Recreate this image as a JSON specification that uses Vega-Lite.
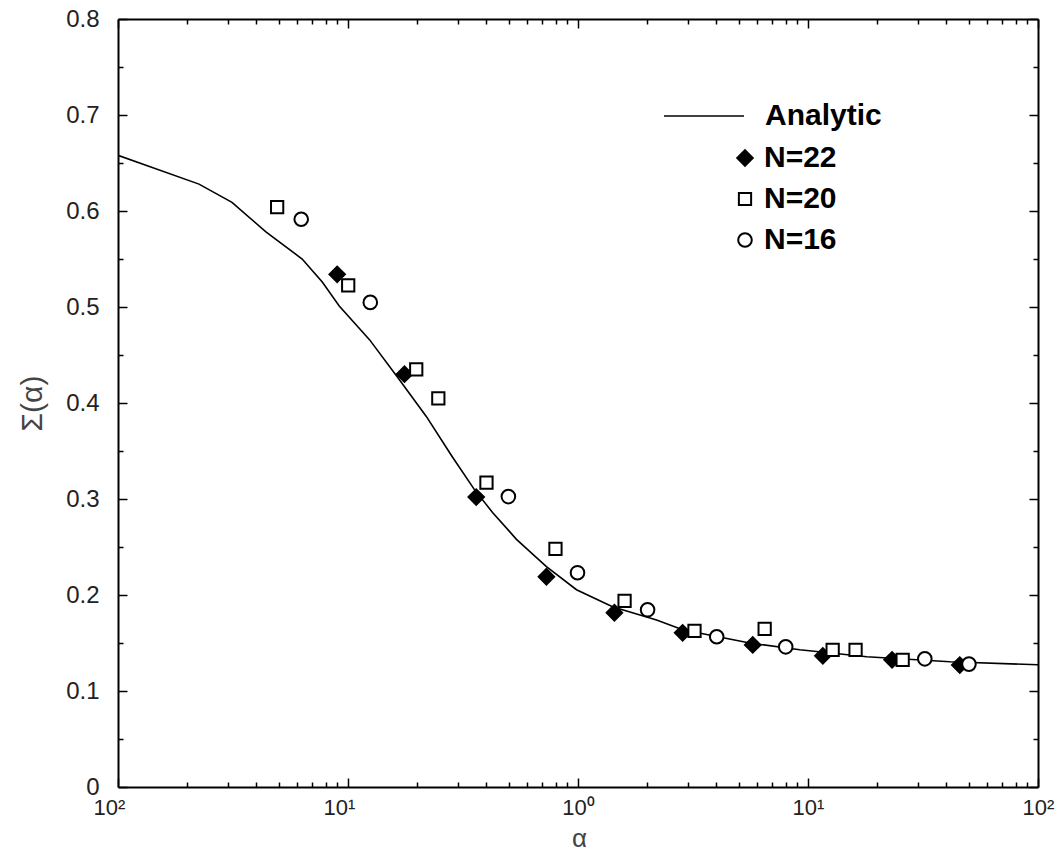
{
  "$schema": "https://vega.github.io/schema/vega-lite/v6.json",
  "width": 920,
  "height": 768,
  "autosize": {"type": "none"},
  "padding": {"left": 118, "top": 19, "right": 17, "bottom": 65},
  "background": "white",
  "config": {
    "view": {"stroke": null},
    "axis": {"grid": false, "domainColor": "black", "tickColor": "black", "labelFont": "Liberation Sans", "titleFont": "Liberation Sans", "labelFlush": false, "labelOverlap": false, "labelBound": false}
  },
  "datasets": {
    "analytic": [
      {"alpha": 0.01, "sigma": 0.658, "series": "Analytic"},
      {"alpha": 0.0225, "sigma": 0.628, "series": "Analytic"},
      {"alpha": 0.0313, "sigma": 0.609, "series": "Analytic"},
      {"alpha": 0.0441, "sigma": 0.578, "series": "Analytic"},
      {"alpha": 0.0632, "sigma": 0.55, "series": "Analytic"},
      {"alpha": 0.0773, "sigma": 0.526, "series": "Analytic"},
      {"alpha": 0.0916, "sigma": 0.501, "series": "Analytic"},
      {"alpha": 0.124, "sigma": 0.466, "series": "Analytic"},
      {"alpha": 0.167, "sigma": 0.4245, "series": "Analytic"},
      {"alpha": 0.219, "sigma": 0.386, "series": "Analytic"},
      {"alpha": 0.284, "sigma": 0.344, "series": "Analytic"},
      {"alpha": 0.354, "sigma": 0.31, "series": "Analytic"},
      {"alpha": 0.425, "sigma": 0.286, "series": "Analytic"},
      {"alpha": 0.54, "sigma": 0.258, "series": "Analytic"},
      {"alpha": 0.729, "sigma": 0.2295, "series": "Analytic"},
      {"alpha": 0.985, "sigma": 0.2055, "series": "Analytic"},
      {"alpha": 1.413, "sigma": 0.1877, "series": "Analytic"},
      {"alpha": 2.196, "sigma": 0.174, "series": "Analytic"},
      {"alpha": 2.85, "sigma": 0.1638, "series": "Analytic"},
      {"alpha": 5.58, "sigma": 0.15, "series": "Analytic"},
      {"alpha": 9.21, "sigma": 0.1429, "series": "Analytic"},
      {"alpha": 18.0, "sigma": 0.1356, "series": "Analytic"},
      {"alpha": 41.4, "sigma": 0.1304, "series": "Analytic"},
      {"alpha": 100, "sigma": 0.1273, "series": "Analytic"}
    ],
    "points": [
      {"alpha": 0.0897, "sigma": 0.534, "series": "N=22"},
      {"alpha": 0.176, "sigma": 0.43, "series": "N=22"},
      {"alpha": 0.361, "sigma": 0.302, "series": "N=22"},
      {"alpha": 0.729, "sigma": 0.219, "series": "N=22"},
      {"alpha": 1.44, "sigma": 0.1815, "series": "N=22"},
      {"alpha": 2.85, "sigma": 0.1606, "series": "N=22"},
      {"alpha": 5.75, "sigma": 0.148, "series": "N=22"},
      {"alpha": 11.6, "sigma": 0.1366, "series": "N=22"},
      {"alpha": 23.2, "sigma": 0.1325, "series": "N=22"},
      {"alpha": 45.7, "sigma": 0.127, "series": "N=22"},
      {"alpha": 0.0492, "sigma": 0.604, "series": "N=20"},
      {"alpha": 0.1002, "sigma": 0.5226, "series": "N=20"},
      {"alpha": 0.198, "sigma": 0.435, "series": "N=20"},
      {"alpha": 0.247, "sigma": 0.4047, "series": "N=20"},
      {"alpha": 0.4, "sigma": 0.317, "series": "N=20"},
      {"alpha": 0.798, "sigma": 0.248, "series": "N=20"},
      {"alpha": 1.594, "sigma": 0.194, "series": "N=20"},
      {"alpha": 3.21, "sigma": 0.1627, "series": "N=20"},
      {"alpha": 6.48, "sigma": 0.1648, "series": "N=20"},
      {"alpha": 12.8, "sigma": 0.1429, "series": "N=20"},
      {"alpha": 16.1, "sigma": 0.1429, "series": "N=20"},
      {"alpha": 25.8, "sigma": 0.1325, "series": "N=20"},
      {"alpha": 0.0626, "sigma": 0.5914, "series": "N=16"},
      {"alpha": 0.125, "sigma": 0.5048, "series": "N=16"},
      {"alpha": 0.498, "sigma": 0.3025, "series": "N=16"},
      {"alpha": 0.995, "sigma": 0.2232, "series": "N=16"},
      {"alpha": 2.007, "sigma": 0.1846, "series": "N=16"},
      {"alpha": 4.01, "sigma": 0.1565, "series": "N=16"},
      {"alpha": 8.0, "sigma": 0.146, "series": "N=16"},
      {"alpha": 32.2, "sigma": 0.1335, "series": "N=16"},
      {"alpha": 50.1, "sigma": 0.128, "series": "N=16"}
    ]
  },
  "layer": [
    {
      "data": {"name": "analytic"},
      "mark": {"type": "line", "strokeWidth": 1.6, "clip": true},
      "encoding": {
        "x": {
          "field": "alpha", "type": "quantitative",
          "scale": {"type": "log", "domain": [0.01, 100], "nice": false},
          "axis": {
            "orient": "bottom", "values": [0.01, 0.1, 1, 10, 100],
            "labelExpr": "datum.value < 0.05 ? '10²' : datum.value < 0.5 ? '10¹' : datum.value < 5 ? '10⁰' : datum.value < 50 ? '10¹' : '10²'",
            "ticks": false, "tickSize": 0, "domain": true, "domainWidth": 2,
            "labelFontSize": 22, "labelPadding": 10, "labelColor": "#222",
            "labelOffset": {"condition": {"test": "datum.value < 0.5", "value": -9}, "value": 0},
            "title": "α", "titleFontSize": 26, "titleFontWeight": "normal", "titleColor": "#444",
            "titleX": 461, "titleY": 51, "titleBaseline": "middle", "titleAlign": "center"
          }
        },
        "y": {
          "field": "sigma", "type": "quantitative",
          "scale": {"domain": [0, 0.8], "nice": false, "zero": false},
          "axis": {
            "orient": "left", "values": [0, 0.1, 0.2, 0.3, 0.4, 0.5, 0.6, 0.7, 0.8],
            "labelExpr": "datum.value == 0 ? '0' : format(datum.value, '.1f')",
            "ticks": false, "tickSize": 0, "domain": true, "domainWidth": 2,
            "labelFontSize": 24, "labelPadding": 19, "labelColor": "#222",
            "title": "Σ(α)", "titleFontSize": 30, "titleFontWeight": "normal", "titleColor": "#444",
            "titleX": -86, "titleY": 384, "titleBaseline": "middle", "titleAlign": "center", "titleAngle": -90
          }
        },
        "stroke": {
          "field": "series", "type": "nominal",
          "scale": {"domain": ["Analytic"], "range": ["black"]},
          "legend": {
            "orient": "none", "legendX": 545, "legendY": 56, "title": null, "padding": 0,
            "symbolType": "stroke", "symbolSize": 6400, "symbolStrokeWidth": 1.6, "symbolStrokeColor": "black",
            "labelFont": "Liberation Sans", "labelFontSize": 30, "labelFontWeight": "bold", "labelColor": "black",
            "labelOffset": 20, "labelLimit": 400
          }
        }
      }
    },
    {
      "data": {"name": "points"},
      "mark": {"type": "point", "filled": true, "stroke": "black", "strokeWidth": 2, "opacity": 1},
      "encoding": {
        "x": {
          "field": "alpha", "type": "quantitative",
          "scale": {"type": "log", "domain": [0.01, 100], "nice": false},
          "axis": {"orient": "bottom", "values": [0.01, 0.1, 1, 10, 100], "labels": false, "domain": false, "ticks": true, "tickSize": -9, "tickWidth": 1.5, "title": null}
        },
        "y": {
          "field": "sigma", "type": "quantitative",
          "scale": {"domain": [0, 0.8], "nice": false, "zero": false},
          "axis": {"orient": "left", "values": [0, 0.1, 0.2, 0.3, 0.4, 0.5, 0.6, 0.7, 0.8], "labels": false, "domain": false, "ticks": true, "tickSize": -9, "tickWidth": 1.5, "title": null}
        },
        "color": {
          "field": "series", "type": "nominal",
          "scale": {"domain": ["N=22", "N=20", "N=16"], "range": ["black", "white", "white"]},
          "legend": {
            "orient": "none", "legendX": 612, "legendY": 124, "title": null, "padding": 0,
            "symbolStrokeWidth": 2, "symbolStrokeColor": "black", "rowPadding": 11,
            "labelFont": "Liberation Sans", "labelFontSize": 30, "labelFontWeight": "bold", "labelColor": "black",
            "labelOffset": 4, "labelLimit": 400
          }
        },
        "shape": {
          "field": "series", "type": "nominal",
          "scale": {"domain": ["N=22", "N=20", "N=16"], "range": ["diamond", "square", "circle"]},
          "legend": {
            "orient": "none", "legendX": 612, "legendY": 124, "title": null, "padding": 0,
            "symbolStrokeWidth": 2, "symbolStrokeColor": "black", "rowPadding": 11,
            "labelFont": "Liberation Sans", "labelFontSize": 30, "labelFontWeight": "bold", "labelColor": "black",
            "labelOffset": 4, "labelLimit": 400
          }
        },
        "size": {
          "field": "series", "type": "nominal",
          "scale": {"type": "ordinal", "domain": ["N=22", "N=20", "N=16"], "range": [240, 150, 185]},
          "legend": {
            "orient": "none", "legendX": 612, "legendY": 124, "title": null, "padding": 0,
            "symbolStrokeWidth": 2, "symbolStrokeColor": "black", "rowPadding": 11,
            "labelFont": "Liberation Sans", "labelFontSize": 30, "labelFontWeight": "bold", "labelColor": "black",
            "labelOffset": 4, "labelLimit": 400
          }
        }
      }
    },
    {
      "data": {"name": "analytic"},
      "mark": {"type": "point", "opacity": 0, "size": 1},
      "encoding": {
        "x": {
          "field": "alpha", "type": "quantitative",
          "scale": {"type": "log", "domain": [0.01, 100], "nice": false},
          "axis": {"orient": "bottom", "values": [0.02, 0.03, 0.04, 0.05, 0.06, 0.07, 0.08, 0.09, 0.2, 0.3, 0.4, 0.5, 0.6, 0.7, 0.8, 0.9, 2, 3, 4, 5, 6, 7, 8, 9, 20, 30, 40, 50, 60, 70, 80, 90], "labels": false, "domain": false, "ticks": true, "tickSize": -5, "tickWidth": 1.5, "title": null}
        },
        "y": {
          "field": "sigma", "type": "quantitative",
          "scale": {"domain": [0, 0.8], "nice": false, "zero": false},
          "axis": {"orient": "left", "values": [0.05, 0.15, 0.25, 0.35, 0.45, 0.55, 0.65, 0.75], "labels": false, "domain": false, "ticks": true, "tickSize": -5, "tickWidth": 1.5, "title": null}
        }
      }
    },
    {
      "data": {"name": "analytic"},
      "mark": {"type": "point", "opacity": 0, "size": 1},
      "encoding": {
        "x": {
          "field": "alpha", "type": "quantitative",
          "scale": {"type": "log", "domain": [0.01, 100], "nice": false},
          "axis": {"orient": "top", "values": [0.01, 0.1, 1, 10, 100], "labels": false, "domain": true, "domainWidth": 2, "ticks": true, "tickSize": -9, "tickWidth": 1.5, "title": null}
        },
        "y": {
          "field": "sigma", "type": "quantitative",
          "scale": {"domain": [0, 0.8], "nice": false, "zero": false},
          "axis": {"orient": "right", "values": [0, 0.1, 0.2, 0.3, 0.4, 0.5, 0.6, 0.7, 0.8], "labels": false, "domain": true, "domainWidth": 2, "ticks": true, "tickSize": -9, "tickWidth": 1.5, "title": null}
        }
      }
    },
    {
      "data": {"name": "analytic"},
      "mark": {"type": "point", "opacity": 0, "size": 1},
      "encoding": {
        "x": {
          "field": "alpha", "type": "quantitative",
          "scale": {"type": "log", "domain": [0.01, 100], "nice": false},
          "axis": {"orient": "top", "values": [0.02, 0.03, 0.04, 0.05, 0.06, 0.07, 0.08, 0.09, 0.2, 0.3, 0.4, 0.5, 0.6, 0.7, 0.8, 0.9, 2, 3, 4, 5, 6, 7, 8, 9, 20, 30, 40, 50, 60, 70, 80, 90], "labels": false, "domain": false, "ticks": true, "tickSize": -5, "tickWidth": 1.5, "title": null}
        },
        "y": {
          "field": "sigma", "type": "quantitative",
          "scale": {"domain": [0, 0.8], "nice": false, "zero": false},
          "axis": {"orient": "right", "values": [0.05, 0.15, 0.25, 0.35, 0.45, 0.55, 0.65, 0.75], "labels": false, "domain": false, "ticks": true, "tickSize": -5, "tickWidth": 1.5, "title": null}
        }
      }
    }
  ],
  "resolve": {"axis": {"x": "independent", "y": "independent"}}
}
